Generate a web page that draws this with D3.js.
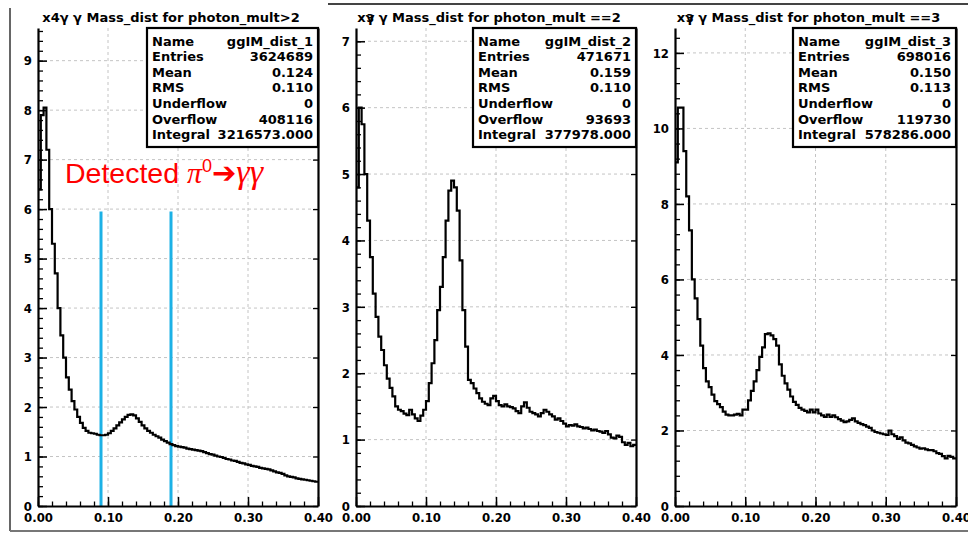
<!DOCTYPE html>
<html>
<head>
<meta charset="utf-8">
<script src="https://cdn.jsdelivr.net/npm/d3@7"></script>
<style>
  body { margin: 0; background: #fff; }
  svg { display: block; }
</style>
</head>
<body>
<svg id="container" width="968" height="534"></svg>
<script>
// ---- data ----
const xTicks = [0, 0.1, 0.2, 0.3, 0.4]
const xTickLabels = ['0.00', '0.10', '0.20', '0.30', '0.40']
const titleHead = ['x4γ', 'xγ', 'xγ']
const titleOver = ['', '3', '3']
const titleTail = [
  ' γ Mass_dist for photon_mult>2',
  ' γ Mass_dist for photon_mult ==2',
  ' γ Mass_dist for photon_mult ==3',
]
const statLabels = ['Name', 'Entries', 'Mean', 'RMS', 'Underflow', 'Overflow', 'Integral']
const histNames = ['ggIM_dist_1', 'ggIM_dist_2', 'ggIM_dist_3']
const entries = ['3624689', '471671', '698016']
const means = ['0.124', '0.159', '0.150']
const rmsVals = ['0.110', '0.110', '0.113']
const underflows = ['0', '0', '0']
const overflows = ['408116', '93693', '119730']
const integrals = ['3216573.000', '377978.000', '578286.000']
const yMajorStep = [1, 1, 2]
const yMinorStep = [0.2, 0.2, 0.4]
const binWidth = 0.004

const dist1 = [
  6.4, 7.9, 8.05, 7.2, 6.0, 5.3, 4.7, 4.0, 3.45, 3.0,
  2.6, 2.35, 2.12, 1.95, 1.8, 1.68, 1.58, 1.52, 1.48, 1.47,
  1.46, 1.44, 1.43, 1.43, 1.44, 1.47, 1.52, 1.57, 1.63, 1.69,
  1.75, 1.8, 1.84, 1.85, 1.83, 1.77, 1.7, 1.63, 1.57, 1.52,
  1.48, 1.44, 1.41, 1.38, 1.34, 1.31, 1.28, 1.25, 1.23, 1.21,
  1.2, 1.19, 1.18, 1.16, 1.15, 1.14, 1.13, 1.12, 1.11, 1.09,
  1.07, 1.05, 1.04, 1.02, 1.0, 0.99, 0.97, 0.95, 0.94, 0.92,
  0.91, 0.89, 0.87, 0.86, 0.84, 0.83, 0.81, 0.8, 0.79, 0.77,
  0.76, 0.75, 0.74, 0.72, 0.7, 0.68, 0.67, 0.65, 0.62, 0.6,
  0.59, 0.58, 0.56, 0.55, 0.54, 0.53, 0.52, 0.51, 0.5, 0.49,
]
const dist2 = [
  4.8, 6.0, 5.75, 5.0, 4.3, 3.75, 3.2, 2.85, 2.55, 2.35,
  2.12, 1.92, 1.78, 1.65, 1.5, 1.45, 1.43, 1.39, 1.37, 1.45,
  1.38, 1.32, 1.28, 1.36, 1.45, 1.58, 1.85, 2.15, 2.5, 2.95,
  3.3, 3.75, 4.3, 4.75, 4.9, 4.8, 4.45, 3.7, 2.95, 2.4,
  1.9, 1.85, 1.77, 1.7, 1.62, 1.57, 1.54, 1.52, 1.62, 1.66,
  1.58, 1.52, 1.5, 1.53, 1.5, 1.49, 1.47, 1.43, 1.4, 1.5,
  1.56, 1.48, 1.42, 1.4, 1.38, 1.35, 1.4, 1.45, 1.42, 1.38,
  1.35, 1.3, 1.32, 1.28, 1.24, 1.2, 1.22, 1.21, 1.23, 1.2,
  1.19, 1.17, 1.18, 1.16, 1.14, 1.15, 1.13, 1.12, 1.1, 1.13,
  1.08, 1.03, 1.02, 1.06, 1.04, 0.96, 0.92, 0.95, 0.9, 0.92,
]
const dist3 = [
  9.1, 10.55, 10.55, 9.4, 8.2, 7.3, 6.0, 5.5, 4.95, 4.25,
  3.65, 3.3, 3.15, 2.95, 2.78, 2.7, 2.62, 2.5, 2.42, 2.4,
  2.4, 2.42, 2.44, 2.4, 2.55, 2.55, 2.8, 3.05, 3.3, 3.6,
  3.95, 4.2, 4.55, 4.57, 4.52, 4.42, 4.25, 3.75, 3.45, 3.25,
  3.08, 2.9, 2.76, 2.68, 2.6, 2.55, 2.52, 2.48, 2.55, 2.48,
  2.55, 2.45, 2.4, 2.36, 2.42, 2.36, 2.4, 2.35, 2.3, 2.26,
  2.22, 2.24, 2.28, 2.32, 2.24, 2.2, 2.17, 2.14, 2.1, 2.07,
  2.0, 1.96, 1.94, 1.92, 1.9, 1.88, 2.0, 1.9, 1.85, 1.78,
  1.82, 1.74, 1.68, 1.66, 1.62, 1.58, 1.55, 1.52, 1.53, 1.5,
  1.48, 1.48, 1.45, 1.4, 1.38, 1.32, 1.26, 1.33, 1.3, 1.26,
]
const cutLines = [0.09, 0.19]
const cutTop = 5.95

// ---- layout ----
const dists = [dist1, dist2, dist3]
const plotLeft = [38, 356, 675]
const plotWidth = [280, 280, 281]
const plotTop = 28,
  plotBottom = 506
const boxLeft = [147, 473, 793]
const boxBottom = 147

const svg = d3.select('#container')

// outer slide frame
svg.append('line').attr('x1', 10).attr('x2', 10).attr('y1', 8).attr('y2', 531)
  .attr('stroke', '#666').attr('stroke-width', 2)
svg.append('line').attr('x1', 10).attr('x2', 968).attr('y1', 531).attr('y2', 531)
  .attr('stroke', '#777').attr('stroke-width', 2)
svg.append('line').attr('x1', 328).attr('x2', 968).attr('y1', 4).attr('y2', 4)
  .attr('stroke', '#444').attr('stroke-width', 2)

dists.forEach((vals, p) => {
  const x = d3.scaleLinear().domain([0, 0.4]).range([plotLeft[p], plotLeft[p] + plotWidth[p]])
  const yMax = d3.max(vals) * 1.2
  const y = d3.scaleLinear().domain([0, yMax]).range([plotBottom, plotTop])
  const g = svg.append('g')

  const yMajors = d3.range(0, yMax, yMajorStep[p])
  const yMinors = d3.range(0, yMax, yMinorStep[p])
  const xMinors = d3.range(0, 0.4001, 0.02)

  // dashed grid
  g.append('g').selectAll('line').data(xTicks.slice(1, -1)).join('line')
    .attr('x1', (d) => x(d)).attr('x2', (d) => x(d))
    .attr('y1', plotTop).attr('y2', plotBottom)
    .attr('stroke', '#c4c4c4').attr('stroke-dasharray', '3,3')
  g.append('g').selectAll('line').data(yMajors.slice(1)).join('line')
    .attr('x1', x.range()[0]).attr('x2', x.range()[1])
    .attr('y1', (d) => y(d)).attr('y2', (d) => y(d))
    .attr('stroke', '#c4c4c4').attr('stroke-dasharray', '3,3')

  // cut lines on the first panel
  if (p === 0) {
    g.append('g').selectAll('line').data(cutLines).join('line')
      .attr('x1', (d) => x(d)).attr('x2', (d) => x(d))
      .attr('y1', y(0)).attr('y2', y(cutTop))
      .attr('stroke', '#1cb1e6').attr('stroke-width', 3)
  }

  // histogram steps
  const pts = vals.map((v, i) => [i * binWidth, v])
  pts.push([vals.length * binWidth, vals[vals.length - 1]])
  g.append('path').datum(pts)
    .attr('fill', 'none').attr('stroke', '#000').attr('stroke-width', 2.2)
    .attr('d', d3.line().x((d) => x(d[0])).y((d) => y(d[1])).curve(d3.curveStepAfter))

  const tickFont = (sel) => sel.selectAll('text')
    .attr('font-family', "'DejaVu Sans Condensed', 'DejaVu Sans', sans-serif")
    .attr('font-weight', 'bold').attr('font-size', 13).attr('fill', '#000')

  // left axis
  g.append('g').attr('transform', `translate(${x.range()[0]},0)`)
    .call(d3.axisLeft(y).tickValues(yMinors).tickSize(-5).tickFormat(''))
    .call((s) => s.select('.domain').remove())
    .call((s) => s.selectAll('line').attr('stroke-width', 1.3))
  g.append('g').attr('transform', `translate(${x.range()[0]},0)`)
    .call(d3.axisLeft(y).tickValues(yMajors).tickSize(-9).tickSizeOuter(0).tickPadding(6).tickFormat(d3.format('d')))
    .call((s) => s.select('.domain').attr('stroke-width', 2.2))
    .call((s) => s.selectAll('line').attr('stroke-width', 1.5))
    .call(tickFont)

  // right axis
  g.append('g').attr('transform', `translate(${x.range()[1]},0)`)
    .call(d3.axisRight(y).tickValues(yMajors).tickSize(-5).tickSizeOuter(0).tickFormat(''))
    .call((s) => s.select('.domain').attr('stroke-width', 2.2))
    .call((s) => s.selectAll('line').attr('stroke-width', 1.3))

  // bottom axis
  g.append('g').attr('transform', `translate(0,${plotBottom})`)
    .call(d3.axisBottom(x).tickValues(xMinors).tickSize(-4.5).tickFormat(''))
    .call((s) => s.select('.domain').remove())
    .call((s) => s.selectAll('line').attr('stroke-width', 1.3))
  g.append('g').attr('transform', `translate(0,${plotBottom})`)
    .call(d3.axisBottom(x).tickValues(xTicks).tickSize(-9).tickSizeOuter(0).tickPadding(7)
      .tickFormat((d, i) => xTickLabels[i]))
    .call((s) => s.select('.domain').attr('stroke-width', 2.2))
    .call((s) => s.selectAll('line').attr('stroke-width', 1.5))
    .call(tickFont)

  // title
  const t = g.append('text')
    .attr('x', (x.range()[0] + x.range()[1]) / 2 - 7).attr('y', 22)
    .attr('text-anchor', 'middle')
    .attr('font-family', "'DejaVu Sans', sans-serif").attr('font-weight', 'bold').attr('font-size', 13)
  t.append('tspan').text(titleHead[p])
  if (titleOver[p]) t.append('tspan').attr('dx', -8).attr('font-size', 11).text(titleOver[p])
  t.append('tspan').text(titleTail[p])

  // stats box
  const bx0 = boxLeft[p], bx1 = x.range()[1]
  g.append('rect').attr('x', bx0).attr('y', plotTop)
    .attr('width', bx1 - bx0).attr('height', boxBottom - plotTop)
    .attr('fill', '#fff').attr('stroke', '#000').attr('stroke-width', 2.2)
  const statValues = [histNames[p], entries[p], means[p], rmsVals[p], underflows[p], overflows[p], integrals[p]]
  const rows = g.append('g')
    .attr('font-family', "'DejaVu Sans', sans-serif").attr('font-weight', 'bold').attr('font-size', 13)
  rows.selectAll('.lab').data(statLabels).join('text').attr('class', 'lab')
    .attr('x', bx0 + 5).attr('y', (d, i) => 45.5 + i * 15.6).text((d) => d)
  rows.selectAll('.val').data(statValues).join('text').attr('class', 'val')
    .attr('x', bx1 - 5).attr('y', (d, i) => 45.5 + i * 15.6)
    .attr('text-anchor', 'end').text((d) => d)
})

// annotation
const note = svg.append('text').attr('x', 65).attr('y', 183).attr('fill', '#f00')
note.append('tspan').attr('font-family', "'Liberation Sans', Arial, sans-serif").attr('font-size', 28.5).text('Detected ')
note.append('tspan').attr('font-family', "'Liberation Serif', serif").attr('font-style', 'italic').attr('font-size', 30).text('π')
note.append('tspan').attr('font-family', "'Liberation Sans', Arial, sans-serif").attr('font-size', 18).attr('dy', -11).text('0')
note.append('tspan').attr('font-family', "'DejaVu Sans', sans-serif").attr('font-size', 29).attr('dy', 11).text('➔')
note.append('tspan').attr('font-family', "'Liberation Serif', serif").attr('font-style', 'italic').attr('font-size', 34).text('γγ')
</script>
</body>
</html>
